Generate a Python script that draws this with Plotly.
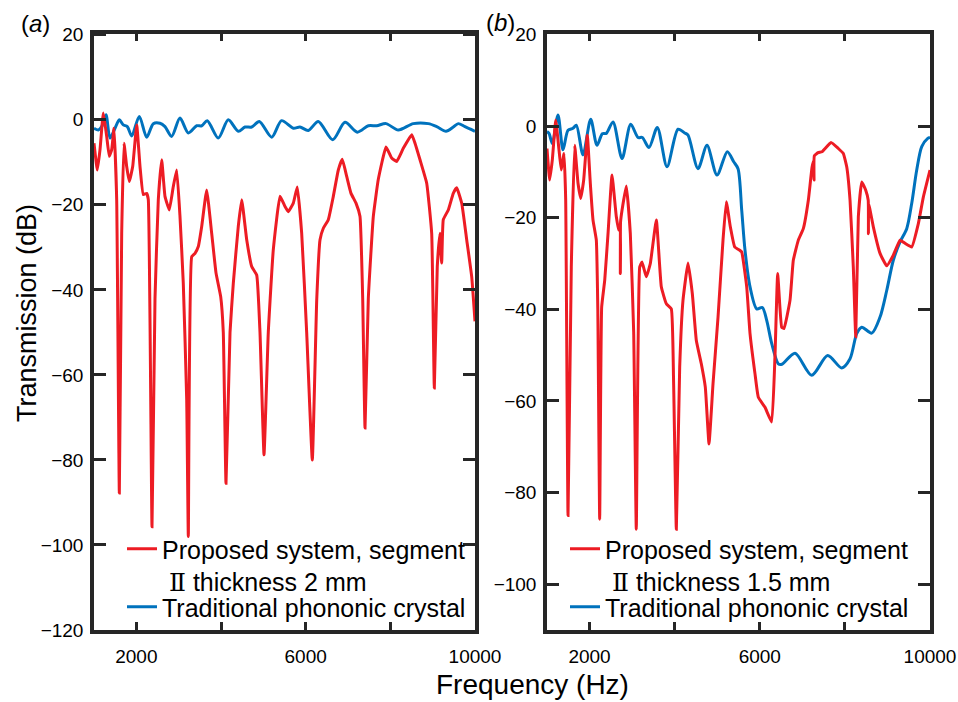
import plotly.graph_objects as go

# ---------------- Panel (a) data ----------------
a_red_f = [1000, 1078, 1142, 1220, 1300, 1361, 1418, 1472, 1536, 1598, 1654, 1709, 1772, 1834, 1914,
           2009, 2087, 2165, 2245, 2283, 2370, 2441, 2519, 2599, 2677, 2779, 2873, 2954, 3031, 3109,
           3190, 3228, 3308, 3386, 3464, 3544, 3662, 3780, 3882, 3993, 4054, 4118, 4213, 4291, 4409,
           4489, 4607, 4725, 4843, 4921, 5016, 5117, 5235, 5394, 5512, 5590, 5708, 5802, 5906, 6024,
           6157, 6261, 6339, 6417, 6535, 6653, 6771, 6865, 6969, 7071, 7189, 7283, 7347, 7402, 7480,
           7598, 7716, 7898, 8032, 8150, 8306, 8505, 8583, 8701, 8859, 8977, 9039, 9109, 9173, 9213,
           9251, 9369, 9487, 9568, 9686, 9804, 9922, 10000]
a_red_db = [-5.5, -11.8, -7, 1.6, -3.9, -8.6, -7, -2, -18.8, -87.8, -26.7, -5.5, -11, -14.5, -11,
            -1.2, -11, -17.6, -17.3, -18.8, -95.7, -42, -18.8, -9.4, -18, -21.2, -15.7, -11.8, -22.7, -38.4,
            -65.9, -98, -32.2, -31.4, -29.8, -25.1, -16.5, -26.7, -36, -41.6, -50, -85.5, -50, -38.4, -25,
            -18.8, -28.2, -34.5, -36.5, -50, -78.8, -50, -30.6, -18, -20.4, -21.6, -19.6, -15.8, -26.7, -50,
            -80, -42.4, -28.2, -25.5, -23.5, -18, -11.8, -9.3, -13.3, -17.3, -19.6, -22.7, -42, -72.5, -42,
            -22.7, -14, -6.4, -9, -9.8, -6.7, -3.5, -5.5, -9.4, -14.9, -26.7, -63.1, -34.5, -26.7, -33.7,
            -23.5, -21.2, -17.3, -16, -19.6, -28.2, -36.9, -47.4]

a_blue_f = [1000, 1102, 1182, 1283, 1378, 1496, 1598, 1692, 1787, 1891, 2070, 2245, 2401, 2559, 2677,
            2835, 3031, 3228, 3426, 3544, 3676, 3936, 4172, 4409, 4567, 4725, 4905, 5198, 5430, 5708,
            5866, 6062, 6298, 6638, 6929, 7220, 7480, 7678, 7898, 8188, 8542, 8897, 9095, 9315, 9487,
            9605, 9764, 10000]
a_blue_db = [-2, -2.4, -1.6, 1.2, -4.3, -2, 0, -1.2, -1.6, -3.8, 0.8, -4.1, -0.9, -0.8, -1.6,
             -3.9, 0.4, -3.1, -1.4, -1.4, -0.2, -4.3, 0, -2.7, -1.7, -1.7, -0.4, -4.1, -0.2, -2,
             -1.7, -2.5, -0.4, -4.7, -0.6, -2.9, -1.4, -1.4, -0.9, -2.4, -0.9, -0.9, -1.6, -2.7, -1.7,
             -0.9, -1.6, -2.7]

# ---------------- Panel (b) data ----------------
b_red_f = [1000, 1063, 1125, 1204, 1282, 1336, 1400, 1439, 1494, 1571, 1651, 1729, 1792, 1862, 1947,
           2018, 2081, 2159, 2194, 2238, 2285, 2356, 2434, 2528, 2629, 2692, 2720, 2723, 2728, 2763,
           2864, 2958, 3037, 3098, 3178, 3233, 3334, 3428, 3569, 3686, 3804, 3921, 3973, 4039, 4118,
           4196, 4314, 4415, 4509, 4626, 4720, 4807, 4901, 5019, 5136, 5214, 5308, 5411, 5529, 5576,
           5693, 5771, 5888, 5966, 6123, 6280, 6358, 6421, 6515, 6570, 6711, 6788, 6906, 7023, 7141,
           7228, 7268, 7275, 7282, 7369, 7463, 7674, 7846, 7963, 8043, 8121, 8198, 8255, 8316, 8396,
           8490, 8548, 8553, 8560, 8668, 8826, 8983, 9138, 9296, 9413, 9570, 9726, 9843, 10000]
b_red_db = [-4.9, -11.8, -7.4, 1.3, -5.2, -9.6, -6, -16, -85, -30.8, -4.2, -12.5, -15.8, -11.8, -2,
            -12.5, -20.5, -24.9, -40, -85.8, -39.5, -33.7, -23.5, -10.7, -19.8, -22.7, -22.7, -32.2, -21, -18.4,
            -13.1, -23.5, -45, -88, -30.8, -29.7, -32.9, -30, -20.5, -35.1, -38.8, -39.9, -55, -88, -52.6,
            -38, -29.9, -36.6, -46.8, -51.9, -57, -69.4, -56.3, -41.7, -24.9, -16.5, -22, -26.4, -27.1, -27.5,
            -35.1, -45.3, -54.1, -59.2, -61.4, -64.6, -50, -32.2, -43.9, -44.2, -38, -29.3, -24.9, -22.4, -16.2,
            -9, -7.5, -11.8, -6.5, -5.8, -5.6, -3.6, -4.9, -6, -8.9, -16.2, -30.8, -46, -19.8, -12.2,
            -14, -16.2, -23.5, -17, -22, -27.8, -30.5, -28.2, -24.9, -25.6, -26.4, -21.3, -15.5, -9.6]

b_blue_f = [1000, 1047, 1125, 1259, 1376, 1494, 1611, 1689, 1846, 2027, 2175, 2300, 2394, 2551, 2763,
            2967, 3139, 3240, 3397, 3592, 3820, 4079, 4236, 4314, 4549, 4760, 4995, 5237, 5387, 5489,
            5576, 5653, 5771, 5928, 6060, 6163, 6281, 6436, 6520, 6828, 7220, 7596, 7925, 8121, 8278,
            8396, 8631, 8826, 8983, 9138, 9296, 9453, 9570, 9688, 9806, 9947, 10000]
b_blue_db = [-1.2, -1.6, -3.8, 2.4, -5.2, -0.9, -0.5, 0.2, -6.3, 1.5, -4.2, -1.7, -1.6, 0.9, -7.1,
             0.4, -2.5, -2.5, -4.7, -0.3, -8.9, -0.7, -1.5, -2, -9.3, -4.2, -10.7, -5.6, -7.8, -9.3,
             -18.4, -27.1, -35.1, -39.9, -39.6, -42.4, -47.5, -51.9, -52, -49.6, -54.4, -50.1, -52.8, -50.8, -45.3,
             -43.9, -45.2, -41.7, -35.9, -29.3, -25.3, -22.4, -16.9, -9.6, -4.5, -2.7, -2.5]

x_tickvals = [2000, 4000, 6000, 8000, 10000]
x_ticktext = ["2000", "", "6000", "", "10000"]
a_yticks = [-120, -100, -80, -60, -40, -20, 0, 20]
b_yticks = [-100, -80, -60, -40, -20, 0, 20]

ROMAN2 = "<span style=\"font-family:'DejaVu Serif';font-weight:normal\">\u2161</span>"
red_name_a = "Proposed system, segment<br>\u00a0" + ROMAN2 + "\u00a0thickness 2 mm"
red_name_b = "Proposed system, segment<br>\u00a0" + ROMAN2 + "\u00a0thickness 1.5 mm"
blue_name = "Traditional phononic crystal"

RED = "#ED1C24"
BLUE = "#0072BD"
AXC = "#262626"
FONT = "Liberation Sans, Arial, sans-serif"

fig = go.Figure()
fig.add_trace(go.Scatter(x=a_blue_f, y=a_blue_db, mode="lines", name=blue_name, showlegend=True,
                         line=dict(color=BLUE, width=3, shape="spline", smoothing=0.8),
                         xaxis="x", yaxis="y", legend="legend3"))
fig.add_trace(go.Scatter(x=a_red_f, y=a_red_db, mode="lines", name=red_name_a, showlegend=True,
                         line=dict(color=RED, width=3, shape="spline", smoothing=0.35),
                         xaxis="x", yaxis="y", legend="legend"))
fig.add_trace(go.Scatter(x=b_blue_f, y=b_blue_db, mode="lines", name=blue_name, showlegend=True,
                         line=dict(color=BLUE, width=3, shape="spline", smoothing=0.8),
                         xaxis="x2", yaxis="y2", legend="legend4"))
fig.add_trace(go.Scatter(x=b_red_f, y=b_red_db, mode="lines", name=red_name_b, showlegend=True,
                         line=dict(color=RED, width=3, shape="spline", smoothing=0.35),
                         xaxis="x2", yaxis="y2", legend="legend2"))

common_x = dict(range=[1000, 10000], tickvals=x_tickvals, ticktext=x_ticktext,
                ticks="inside", ticklen=8, tickwidth=3, tickcolor=AXC,
                showline=True, linewidth=3.5, linecolor=AXC, mirror="allticks",
                showgrid=False, zeroline=False, automargin=False,
                tickfont=dict(size=19, color="black", family=FONT),
                ticklabelstandoff=6)
common_y = dict(ticks="inside", ticklen=12, tickwidth=3, tickcolor=AXC,
                showline=True, linewidth=3.5, linecolor=AXC, mirror="allticks",
                showgrid=False, zeroline=False, automargin=False,
                tickfont=dict(size=19, color="black", family=FONT),
                ticklabelstandoff=3)

ytop = 1 - 33.5 / 702
ybot = 1 - 630 / 702

leg_common = dict(xanchor="left", yanchor="middle", bgcolor="rgba(0,0,0,0)",
                  font=dict(size=25, family=FONT, color="black"),
                  itemwidth=30, valign="top", visible=True)

fig.update_layout(
    width=958, height=702,
    showlegend=True,
    margin=dict(l=0, r=0, t=0, b=0, autoexpand=False),
    paper_bgcolor="white", plot_bgcolor="white",
    font=dict(family=FONT, color="black"),
    xaxis=dict(domain=[94 / 958, 475 / 958], anchor="y", **common_x),
    yaxis=dict(domain=[ybot, ytop], anchor="x", range=[-120, 20.3], tickvals=a_yticks, **common_y),
    xaxis2=dict(domain=[547 / 958, 930 / 958], anchor="y2", **common_x),
    yaxis2=dict(domain=[ybot, ytop], anchor="x2", range=[-110, 20.2], tickvals=b_yticks, **common_y),
    legend=dict(x=122 / 958, y=1 - 565 / 702, **leg_common),
    legend3=dict(x=122 / 958, y=1 - 607 / 702, **leg_common),
    legend2=dict(x=565 / 958, y=1 - 565 / 702, **leg_common),
    legend4=dict(x=565 / 958, y=1 - 607 / 702, **leg_common),
    annotations=[
        dict(text="Frequency (Hz)", x=532 / 958, y=1 - 684 / 702, xref="paper", yref="paper",
             showarrow=False, font=dict(size=28, family=FONT), xanchor="center", yanchor="middle"),
        dict(text="Transmission (dB)", x=27 / 958, y=1 - 313 / 702, xref="paper", yref="paper",
             showarrow=False, textangle=-90, font=dict(size=27, family=FONT),
             xanchor="center", yanchor="middle"),
        dict(text="(<i>a</i>)", x=35 / 958, y=1 - 24 / 702, xref="paper", yref="paper",
             showarrow=False, font=dict(size=24, family=FONT), xanchor="center", yanchor="middle"),
        dict(text="(<i>b</i>)", x=500 / 958, y=1 - 22 / 702, xref="paper", yref="paper",
             showarrow=False, font=dict(size=24, family=FONT), xanchor="center", yanchor="middle"),
    ],
)

fig.write_html("out.html", config={"displayModeBar": False},
               post_script="document.body.style.margin='0px';document.body.style.overflow='hidden';")
